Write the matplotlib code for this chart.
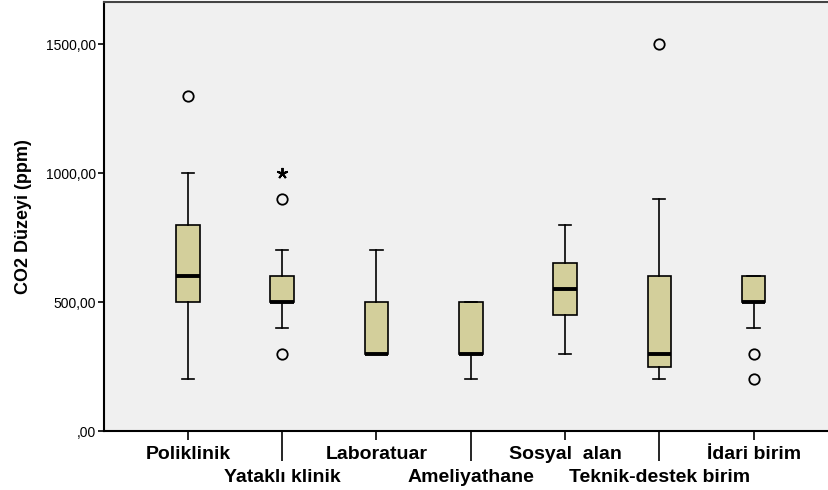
import matplotlib.pyplot as plt
from matplotlib.ticker import FixedLocator

plt.rcParams['font.family'] = ['Liberation Sans', 'DejaVu Sans']

# Box statistics (ppm)
groups = ["Poliklinik", "Yataklı klinik", "Laboratuar", "Ameliyathane",
          "Sosyal  alan", "Teknik-destek birim", "İdari birim"]
whislo = [200, 400, 300, 200, 300, 200, 400]
q1 = [500, 500, 300, 300, 450, 250, 500]
med = [600, 500, 300, 300, 550, 300, 500]
q3 = [800, 600, 500, 500, 650, 600, 600]
whishi = [1000, 700, 700, 500, 800, 900, 600]
outliers = [[1300], [300, 900], [], [], [], [1500], [200, 300]]
extremes = [[], [1000], [], [], [], [], []]

stats = []
for i in range(len(groups)):
    stats.append({"whislo": whislo[i], "q1": q1[i], "med": med[i], "q3": q3[i],
                  "whishi": whishi[i], "fliers": outliers[i], "label": groups[i]})

fig = plt.figure(figsize=(8.29, 4.9), dpi=100)
ax = fig.add_axes([0.1255, 0.1204, 0.8745, 0.8755])
ax.set_facecolor("#F0F0F0")

positions = list(range(1, len(groups) + 1))
ax.bxp(stats, positions=positions, widths=0.25, capwidths=0.13, patch_artist=True,
       boxprops=dict(facecolor="#D3CF9B", edgecolor="black", linewidth=1.2),
       medianprops=dict(color="black", linewidth=2.8),
       whiskerprops=dict(color="black", linewidth=1.2),
       capprops=dict(color="black", linewidth=1.2),
       flierprops=dict(marker="o", markerfacecolor="none", markeredgecolor="black",
                       markersize=7.5, markeredgewidth=1.3))

# extreme values drawn as asterisks, like SPSS
for p, ext in zip(positions, extremes):
    if ext:
        ax.plot([p] * len(ext), ext, linestyle="none", marker=(5, 2, 0), color="black",
                markersize=8, markeredgewidth=1.4)

ax.set_xlim(0.11, 7.8)
ax.set_ylim(0, 1663)

yt = [0, 500, 1000, 1500]
ax.set_yticks(yt, labels=[",00", "500,00", "1000,00", "1500,00"])
ax.tick_params(axis="y", length=4.3, width=1.2, labelsize=10, pad=1.5)
ax.set_ylabel("CO2 Düzeyi (ppm)", fontsize=13, fontweight="bold", labelpad=10)

# staggered category labels: odd ones on major ticks, even ones on long minor ticks
major_pos = positions[0::2]
minor_pos = positions[1::2]
ax.xaxis.set_major_locator(FixedLocator(major_pos))
ax.xaxis.set_minor_locator(FixedLocator(minor_pos))
ax.set_xticks(major_pos, labels=groups[0::2])
ax.set_xticks(minor_pos, labels=groups[1::2], minor=True)
ax.tick_params(axis="x", which="major", length=6.5, width=1.2, labelsize=14, pad=4)
ax.tick_params(axis="x", which="minor", length=21.6, width=1.2, labelsize=14, pad=5.5)
for lab in ax.get_xticklabels(which="both"):
    lab.set_fontweight("bold")

for side in ["left", "bottom"]:
    ax.spines[side].set_linewidth(1.5)
ax.spines["top"].set_color("#444444")
ax.spines["top"].set_linewidth(1.5)
ax.spines["right"].set_visible(False)

fig.savefig("out.png", dpi=100)
